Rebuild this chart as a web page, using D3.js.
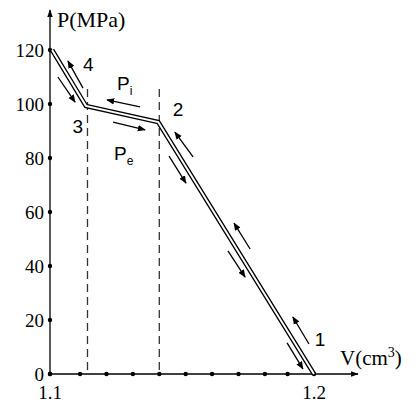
<!DOCTYPE html><html><head><script src="https://cdn.jsdelivr.net/npm/d3@7"></script>
<style>body{margin:0;background:#fff}</style></head><body><svg width="419" height="403" style="font-family:'Liberation Serif','DejaVu Serif',serif"></svg>
<script>
const curveV=[1.1008,1.1136,1.141,1.2];
const curveP=[120,99.3,93.3,0];
const yTicks=[0,20,40,60,80,100,120];
const xDots=[1.1,1.1114,1.1214,1.1314,1.1414,1.1514,1.1614,1.1714,1.1814,1.1900,1.2];
const dashedV=[1.1142,1.1414];
const arrows=[[1.1125,105.9,1.1068,115.9],[1.1030,110,1.1095,100.7],[1.1341,98.9,1.1216,101.5],[1.1239,93.3,1.1360,90.4],[1.1542,80.4,1.1473,89.6],[1.1451,80.7,1.1515,70.7],[1.1758,46.3,1.1697,55.9],[1.1674,45.6,1.1739,35.9],[1.1981,11.1,1.1920,21.1],[1.1898,11.5,1.1958,1.9]];
const labels=[["4",1.1125,115],["3",1.1085,92],["2",1.1465,98],["1",1.2003,13]];
const svg=d3.select("svg");
const x=d3.scaleLinear().domain([1.1,1.2]).range([50,314]);
const y=d3.scaleLinear().domain([0,120]).range([374,50]);
const defs=svg.append("defs");
defs.append("marker").attr("id","ah").attr("viewBox","0 0 10 10").attr("refX",9).attr("refY",5).attr("markerWidth",8).attr("markerHeight",8).attr("markerUnits","userSpaceOnUse").attr("orient","auto").append("path").attr("d","M0,1L10,5L0,9Z").attr("fill","#000");
defs.append("marker").attr("id","ah2").attr("viewBox","0 0 10 10").attr("refX",9).attr("refY",5).attr("markerWidth",8).attr("markerHeight",8).attr("markerUnits","userSpaceOnUse").attr("orient","auto").append("path").attr("d","M0,1.5L10,5L0,8.5Z").attr("fill","#000");
svg.append("line").attr("x1",x(1.1)).attr("y1",y(0)).attr("x2",358).attr("y2",y(0)).attr("stroke","#000").attr("stroke-width",1.3).attr("marker-end","url(#ah2)");
svg.append("line").attr("x1",x(1.1)).attr("y1",y(0)).attr("x2",x(1.1)).attr("y2",10).attr("stroke","#000").attr("stroke-width",1.3).attr("marker-end","url(#ah2)");
svg.selectAll(".yd").data(yTicks).join("circle").attr("cx",x(1.1)).attr("cy",d=>y(d)).attr("r",2.2);
svg.selectAll(".xd").data(xDots).join("circle").attr("cx",d=>x(d)).attr("cy",y(0)).attr("r",2.2);
svg.selectAll(".yl").data(yTicks).join("text").attr("x",44).attr("y",d=>y(d)+7).attr("text-anchor","end").attr("font-size",19).text(d=>d);
svg.append("text").attr("x",x(1.1)).attr("y",399).attr("text-anchor","middle").attr("font-size",19).text("1.1");
svg.append("text").attr("x",x(1.2)).attr("y",399).attr("text-anchor","middle").attr("font-size",19).text("1.2");
svg.append("text").attr("x",57).attr("y",27).attr("font-size",22).text("P(MPa)");
const vt=svg.append("text").attr("x",340).attr("y",365).attr("font-size",21);
vt.append("tspan").text("V(cm");vt.append("tspan").attr("font-size",14).attr("dy",-8).text("3");vt.append("tspan").attr("dy",8).text(")");
svg.selectAll(".dv").data(dashedV).join("line").attr("x1",d=>x(d)).attr("x2",d=>x(d)).attr("y1",89).attr("y2",y(0)).attr("stroke","#333").attr("stroke-width",1.3).attr("stroke-dasharray","8,5");
const pts=curveV.map((v,i)=>[x(v),y(curveP[i])]);
const line=d3.line();
svg.append("path").attr("d",line(pts)).attr("fill","none").attr("stroke","#000").attr("stroke-width",4.6);
svg.append("path").attr("d",line(pts)).attr("fill","none").attr("stroke","#fff").attr("stroke-width",2);
svg.selectAll(".ar").data(arrows).join("line").attr("x1",d=>x(d[0])).attr("y1",d=>y(d[1])).attr("x2",d=>x(d[2])).attr("y2",d=>y(d[3])).attr("stroke","#000").attr("stroke-width",1.3).attr("marker-end","url(#ah)");
const sans="'Liberation Sans',Arial,sans-serif";
svg.selectAll(".lb").data(labels).join("text").attr("x",d=>x(d[1])).attr("y",d=>y(d[2])+7).style("font-family",sans).attr("font-size",19).text(d=>d[0]);
const pi=svg.append("text").attr("x",117).attr("y",90).attr("font-size",19).style("font-family",sans);
pi.append("tspan").text("P");pi.append("tspan").attr("font-size",12).attr("dy",5).text("i");
const pe=svg.append("text").attr("x",114).attr("y",160).attr("font-size",19).style("font-family",sans);
pe.append("tspan").text("P");pe.append("tspan").attr("font-size",12).attr("dy",5).text("e");
</script></body></html>
